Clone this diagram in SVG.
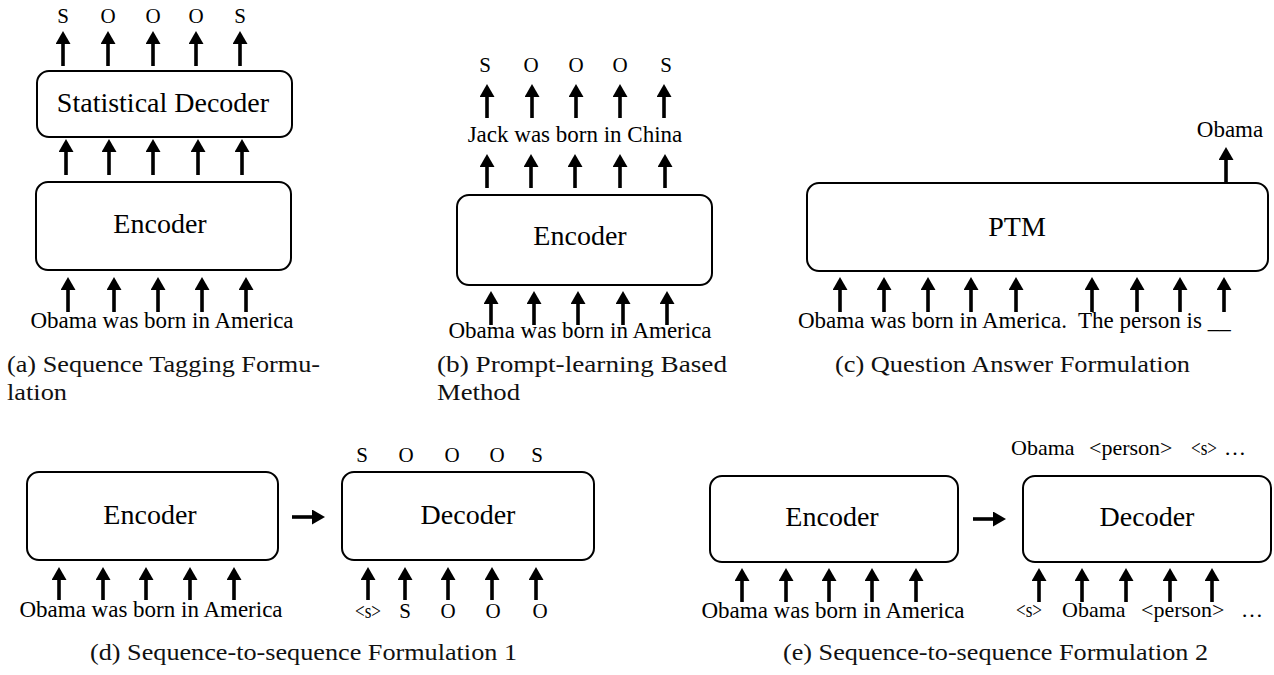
<svg xmlns="http://www.w3.org/2000/svg" width="1274" height="675" viewBox="0 0 1274 675">
<style>
.box{fill:#fff;stroke:#000;stroke-width:2}
.lbl{font-family:"Liberation Serif","Times New Roman",serif;fill:#000}
.big{font-size:28px;text-anchor:middle}
.in{font-size:23px}
.mid{text-anchor:middle}
.tag{font-size:21px;text-anchor:middle}
.cap{font-family:"Liberation Serif","Times New Roman",serif;font-size:24px;fill:#111}
#connectors line{stroke:#000;stroke-width:3.6;marker-end:url(#ah)}
</style>
<defs>
<marker id="ah" markerUnits="userSpaceOnUse" viewBox="0 0 13 15" markerWidth="13" markerHeight="15" refX="2" refY="7.5" orient="auto">
<path d="M0,0 L13,7.5 L0,15 z" fill="#000"/>
</marker>
</defs>

<g id="connectors">
<!-- (a) -->
<line x1="63" y1="66" x2="63" y2="42"/><line x1="108" y1="66" x2="108" y2="42"/><line x1="153" y1="66" x2="153" y2="42"/><line x1="196" y1="66" x2="196" y2="42"/><line x1="240" y1="66" x2="240" y2="42"/>
<line x1="66" y1="175" x2="66" y2="150"/><line x1="109" y1="175" x2="109" y2="150"/><line x1="153" y1="175" x2="153" y2="150"/><line x1="198" y1="175" x2="198" y2="150"/><line x1="242" y1="175" x2="242" y2="150"/>
<line x1="68" y1="312" x2="68" y2="288"/><line x1="114" y1="312" x2="114" y2="288"/><line x1="158" y1="312" x2="158" y2="288"/><line x1="202" y1="312" x2="202" y2="288"/><line x1="246" y1="312" x2="246" y2="288"/>
<!-- (b) -->
<line x1="487" y1="118" x2="487" y2="95"/><line x1="532" y1="118" x2="532" y2="95"/><line x1="576" y1="118" x2="576" y2="95"/><line x1="620" y1="118" x2="620" y2="95"/><line x1="664" y1="118" x2="664" y2="95"/>
<line x1="487" y1="188" x2="487" y2="165"/><line x1="531" y1="188" x2="531" y2="165"/><line x1="575" y1="188" x2="575" y2="165"/><line x1="620" y1="188" x2="620" y2="165"/><line x1="665" y1="188" x2="665" y2="165"/>
<line x1="491" y1="325" x2="491" y2="302"/><line x1="534" y1="325" x2="534" y2="302"/><line x1="578" y1="325" x2="578" y2="302"/><line x1="623" y1="325" x2="623" y2="302"/><line x1="667" y1="325" x2="667" y2="302"/>
<!-- (c) -->
<line x1="1226" y1="182" x2="1226" y2="158"/>
<line x1="840" y1="312" x2="840" y2="288"/><line x1="884" y1="312" x2="884" y2="288"/><line x1="928" y1="312" x2="928" y2="288"/><line x1="971" y1="312" x2="971" y2="288"/><line x1="1016" y1="312" x2="1016" y2="288"/>
<line x1="1092" y1="312" x2="1092" y2="288"/><line x1="1137" y1="312" x2="1137" y2="288"/><line x1="1180" y1="312" x2="1180" y2="288"/><line x1="1224" y1="312" x2="1224" y2="288"/>
<!-- (d) -->
<line x1="59" y1="600" x2="59" y2="578"/><line x1="103" y1="600" x2="103" y2="578"/><line x1="146" y1="600" x2="146" y2="578"/><line x1="190" y1="600" x2="190" y2="578"/><line x1="234" y1="600" x2="234" y2="578"/>
<line x1="368" y1="600" x2="368" y2="578"/><line x1="405" y1="600" x2="405" y2="578"/><line x1="448" y1="600" x2="448" y2="578"/><line x1="492" y1="600" x2="492" y2="578"/><line x1="536" y1="600" x2="536" y2="578"/>
<line x1="292" y1="517" x2="314" y2="517"/>
<!-- (e) -->
<line x1="742" y1="602" x2="742" y2="579"/><line x1="786" y1="602" x2="786" y2="579"/><line x1="829" y1="602" x2="829" y2="579"/><line x1="872" y1="602" x2="872" y2="579"/><line x1="916" y1="602" x2="916" y2="579"/>
<line x1="1039" y1="602" x2="1039" y2="579"/><line x1="1082" y1="602" x2="1082" y2="579"/><line x1="1126" y1="602" x2="1126" y2="579"/><line x1="1170" y1="602" x2="1170" y2="579"/><line x1="1212" y1="602" x2="1212" y2="579"/>
<line x1="973" y1="519" x2="995" y2="519"/>
</g>

<g id="a-stat-decoder">
<rect class="box" x="37" y="71" width="255" height="66" rx="12"/>
<text class="lbl big" x="163" y="112">Statistical Decoder</text>
</g>
<g id="a-encoder">
<rect class="box" x="36" y="182" width="255" height="88" rx="12"/>
<text class="lbl big" x="160" y="233">Encoder</text>
</g>
<g id="a-labels" class="lbl tag">
<text x="63" y="23">S</text><text x="108" y="23">O</text><text x="153" y="23">O</text><text x="196" y="23">O</text><text x="240" y="23">S</text>
</g>
<text class="lbl in mid" x="162" y="328">Obama was born in America</text>

<g id="b-encoder">
<rect class="box" x="457" y="195" width="255" height="90" rx="12"/>
<text class="lbl big" x="580" y="245">Encoder</text>
</g>
<g id="b-labels" class="lbl tag">
<text x="485" y="72">S</text><text x="531" y="72">O</text><text x="576" y="72">O</text><text x="620" y="72">O</text><text x="666" y="72">S</text>
</g>
<text class="lbl in mid" x="575" y="142">Jack was born in China</text>
<text class="lbl in mid" x="580" y="338">Obama was born in America</text>

<g id="c-ptm">
<rect class="box" x="807" y="183" width="461" height="88" rx="12"/>
<text class="lbl big" x="1017" y="236">PTM</text>
</g>
<text class="lbl in mid" x="1230" y="137">Obama</text>
<text class="lbl in" x="798" y="328" style="white-space:pre">Obama was born in America.  The person is __</text>

<g id="d-encoder">
<rect class="box" x="27" y="472" width="251" height="88" rx="12"/>
<text class="lbl big" x="150" y="524">Encoder</text>
</g>
<g id="d-decoder">
<rect class="box" x="342" y="472" width="252" height="88" rx="12"/>
<text class="lbl big" x="468" y="524">Decoder</text>
</g>
<g id="d-labels" class="lbl tag">
<text x="362" y="462">S</text><text x="406" y="462">O</text><text x="452" y="462">O</text><text x="497" y="462">O</text><text x="537" y="462">S</text>
<text x="368" y="618" textLength="26" lengthAdjust="spacingAndGlyphs">&lt;s&gt;</text><text x="405" y="618">S</text><text x="448" y="618">O</text><text x="493" y="618">O</text><text x="540" y="618">O</text>
</g>
<text class="lbl in mid" x="151" y="617">Obama was born in America</text>

<g id="e-encoder">
<rect class="box" x="710" y="476" width="248" height="86" rx="12"/>
<text class="lbl big" x="832" y="526">Encoder</text>
</g>
<g id="e-decoder">
<rect class="box" x="1023" y="476" width="248" height="86" rx="12"/>
<text class="lbl big" x="1147" y="526">Decoder</text>
</g>
<g id="e-labels" class="lbl" style="font-size:22px">
<text x="1011" y="455">Obama</text><text x="1089" y="455">&lt;person&gt;</text><text x="1191" y="455" textLength="26" lengthAdjust="spacingAndGlyphs">&lt;s&gt;</text><text x="1224" y="455">…</text>
<text x="1016" y="617" textLength="26" lengthAdjust="spacingAndGlyphs">&lt;s&gt;</text><text x="1062" y="617">Obama</text><text x="1141" y="617">&lt;person&gt;</text><text x="1241" y="617">…</text>
</g>
<text class="lbl in mid" x="833" y="618">Obama was born in America</text>

<g id="captions" class="cap">
<text x="7" y="372" textLength="313" lengthAdjust="spacingAndGlyphs">(a) Sequence Tagging Formu-</text>
<text x="7" y="400" textLength="60" lengthAdjust="spacingAndGlyphs">lation</text>
<text x="437" y="372" textLength="290" lengthAdjust="spacingAndGlyphs">(b) Prompt-learning Based</text>
<text x="437" y="400" textLength="83" lengthAdjust="spacingAndGlyphs">Method</text>
<text x="835" y="372" textLength="355" lengthAdjust="spacingAndGlyphs">(c) Question Answer Formulation</text>
<text x="90" y="660" textLength="427" lengthAdjust="spacingAndGlyphs">(d) Sequence-to-sequence Formulation 1</text>
<text x="783" y="660" textLength="425" lengthAdjust="spacingAndGlyphs">(e) Sequence-to-sequence Formulation 2</text>
</g>
</svg>
